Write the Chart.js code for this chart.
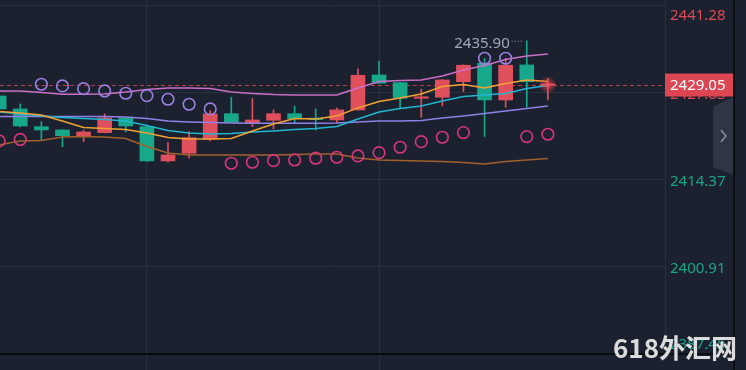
<!DOCTYPE html>
<html>
<head>
<meta charset="utf-8">
<script src="https://cdn.jsdelivr.net/npm/chart.js@4/dist/chart.umd.min.js"></script>
<style>
  html, body { margin: 0; padding: 0; background: #1b212e; }
  #wrap { width: 746px; height: 370px; }
</style>
</head>
<body>
<div id="wrap"><canvas id="kChart" width="746" height="370"></canvas></div>
<script>
// candle index (time slots), oldest on the left
var candleIdx = [0,1,2,3,4,5,6,7,8,9,10,11,12,13,14,15,16,17,18,19,20,21,22,23,24,25,26];

var openP  = [2427.36,2425.35,2422.61,2422.10,2421.17,2421.69,2424.00,2422.61,2417.31,2418.50,2420.71,2424.62,2423.19,2423.60,2424.62,2423.76,2423.65,2425.20,2430.61,2429.42,2427.00,2427.16,2429.57,2432.42,2426.74,2432.16,2429.00];
var highP  = [2427.60,2426.12,2423.39,2422.15,2422.10,2424.58,2424.05,2422.65,2420.14,2421.84,2425.09,2427.16,2426.94,2425.20,2425.81,2425.35,2425.51,2431.54,2432.77,2429.45,2428.40,2429.90,2432.20,2433.19,2433.19,2435.90,2430.10];
var lowP   = [2425.00,2422.57,2420.56,2419.52,2420.29,2421.64,2421.79,2417.25,2417.15,2417.77,2420.40,2423.25,2422.61,2422.26,2423.14,2422.10,2423.23,2425.15,2429.30,2425.46,2424.07,2425.81,2428.03,2421.07,2425.61,2425.61,2426.74];
var closeP = [2425.35,2422.72,2422.10,2421.22,2421.79,2423.96,2422.72,2417.31,2418.24,2420.91,2424.58,2423.29,2423.65,2424.62,2423.85,2423.70,2425.20,2430.56,2429.33,2427.01,2427.06,2429.84,2432.11,2426.74,2432.11,2429.57,2429.05];

// indicator lines
var bandUpper = [2428.13,2428.13,2427.90,2427.62,2427.62,2427.67,2427.98,2428.37,2428.60,2428.60,2428.52,2427.98,2427.75,2427.59,2427.52,2427.52,2427.52,2428.60,2429.60,2429.76,2429.84,2430.45,2431.38,2432.08,2433.01,2433.55,2433.86];
var maFast    = [2424.96,2424.73,2424.42,2423.49,2422.49,2422.33,2422.18,2421.64,2420.94,2420.71,2420.71,2420.79,2421.95,2423.03,2423.88,2423.80,2424.27,2425.51,2426.51,2427.05,2427.67,2428.83,2429.14,2428.60,2429.29,2429.84,2429.60];
var maMid     = [2424.89,2424.58,2424.27,2424.04,2423.88,2423.73,2423.49,2422.80,2422.03,2421.64,2421.48,2421.56,2421.79,2421.95,2422.18,2422.33,2422.64,2423.80,2424.89,2425.43,2425.81,2426.59,2427.28,2427.52,2427.75,2428.52,2428.98];
var maSlow    = [2424.19,2424.19,2424.19,2424.19,2424.19,2424.19,2424.11,2423.88,2423.49,2423.34,2423.26,2423.19,2423.14,2423.14,2423.14,2423.14,2423.19,2423.34,2423.49,2423.49,2423.57,2423.96,2424.27,2424.65,2425.04,2425.43,2425.81];
var bandLower = [2419.78,2420.40,2420.48,2421.02,2421.10,2421.02,2420.79,2419.55,2418.55,2418.24,2418.24,2418.24,2418.24,2418.24,2418.31,2418.39,2418.39,2417.77,2417.46,2417.39,2417.31,2417.23,2417.08,2416.84,2417.23,2417.46,2417.70];

// SAR dots
var sarAbove = [null,null,2429.17,2428.91,2428.49,2428.13,2427.78,2427.41,2426.85,2426.08,2425.35,null,null,null,null,null,null,null,null,null,null,null,null,2433.19,2433.19,null,null];
var sarBelow = [2420.40,2420.63,null,null,null,null,null,null,null,null,null,2416.95,2417.11,2417.35,2417.46,2417.73,2417.88,2418.08,2418.59,2419.43,2420.29,2420.97,2421.69,null,null,2421.07,2421.44];

var priceTicks = [2441.28, 2427.83, 2414.37, 2400.91, 2387.45];
var tickColors = ['#dc4a55', '#dc4a55', '#19a68a', '#19a68a', '#19a68a'];
var timeGrid = [7, 18];
var lastPrice = 2429.05;
var highMark = 2435.90;
var highIdx = 25;

var upColor = '#e0505c';
var downColor = '#17a78a';
var candleColors = candleIdx.map(function (i) { return closeP[i] >= openP[i] ? upColor : downColor; });

function pts(arr) {
    return candleIdx.map(function (i) { return { x: i, y: arr[i] }; }).filter(function (p) { return p.y !== null; });
}
function lineSet(arr, color) {
    return { type: 'line', data: pts(arr), borderColor: color, borderWidth: 1.5, pointRadius: 0, tension: 0, order: 5 };
}
function ringSet(arr, color) {
    return { type: 'line', data: pts(arr), showLine: false, pointRadius: 5.8, pointBorderWidth: 1.6,
        pointBorderColor: color, pointBackgroundColor: 'rgba(0,0,0,0)', order: 1 };
}

var overlay = {
    id: 'overlay',
    beforeDatasetsDraw: function (chart) {
        var ctx = chart.ctx, ys = chart.scales.y, area = chart.chartArea;
        var py = ys.getPixelForValue(lastPrice);
        ctx.save();
        ctx.strokeStyle = 'rgba(205,66,78,0.9)';
        ctx.lineWidth = 1;
        ctx.setLineDash([4, 3]);
        ctx.beginPath();
        ctx.moveTo(area.left, py + 0.5);
        ctx.lineTo(area.right, py + 0.5);
        ctx.stroke();
        ctx.restore();
    },
    afterDatasetsDraw: function (chart) {
        var ctx = chart.ctx, xs = chart.scales.x, ys = chart.scales.y;
        // glow on the live candle
        var gx = xs.getPixelForValue(candleIdx[candleIdx.length - 1]);
        var gy = ys.getPixelForValue(lastPrice);
        ctx.save();
        var g = ctx.createRadialGradient(gx, gy, 0, gx, gy, 9);
        g.addColorStop(0, 'rgba(255,90,100,0.95)');
        g.addColorStop(0.4, 'rgba(240,70,85,0.5)');
        g.addColorStop(1, 'rgba(240,70,85,0)');
        ctx.fillStyle = g;
        ctx.beginPath();
        ctx.arc(gx, gy, 9, 0, Math.PI * 2);
        ctx.fill();
        // highest price marker
        var hx = xs.getPixelForValue(highIdx);
        var hy = ys.getPixelForValue(highMark);
        ctx.strokeStyle = '#9aa1ad';
        ctx.setLineDash([1, 2]);
        ctx.beginPath();
        ctx.moveTo(hx - 15, hy + 0.5);
        ctx.lineTo(hx - 3, hy + 0.5);
        ctx.stroke();
        ctx.setLineDash([]);
        ctx.fillStyle = '#a3a9b4';
        ctx.font = '15px "Noto Sans"';
        ctx.textAlign = 'right';
        ctx.textBaseline = 'middle';
        ctx.fillText(highMark.toFixed(2), hx - 17, hy + 3);
        ctx.restore();
    },
    afterDraw: function (chart) {
        var ctx = chart.ctx, ys = chart.scales.y, area = chart.chartArea;
        ctx.save();
        ctx.font = '15px "Noto Sans"';
        ctx.textAlign = 'left';
        ctx.textBaseline = 'middle';
        ys.ticks.forEach(function (t, k) {
            var y = Math.min(Math.max(ys.getPixelForValue(t.value) + 2, 16), 345);
            ctx.fillStyle = tickColors[k];
            ctx.fillText(t.value.toFixed(2), area.right + 5, y);
        });
        // last price tag
        var py = ys.getPixelForValue(lastPrice);
        ctx.fillStyle = '#dc4652';
        ctx.fillRect(area.right, py - 11.5, 68, 23);
        ctx.fillStyle = '#ffffff';
        ctx.fillText(lastPrice.toFixed(2), area.right + 5, py + 0.5);
        // side tab
        ctx.fillStyle = '#2f3542';
        ctx.beginPath();
        ctx.moveTo(713, 107);
        ctx.lineTo(733, 97);
        ctx.lineTo(733, 175);
        ctx.lineTo(713, 167);
        ctx.closePath();
        ctx.fill();
        ctx.strokeStyle = '#8b919c';
        ctx.lineWidth = 1.5;
        ctx.beginPath();
        ctx.moveTo(721, 130);
        ctx.lineTo(726, 136);
        ctx.lineTo(721, 142);
        ctx.stroke();
        // frame lines
        ctx.strokeStyle = '#07090d';
        ctx.lineWidth = 1.5;
        ctx.beginPath();
        ctx.moveTo(0, area.bottom);
        ctx.lineTo(734, area.bottom);
        ctx.moveTo(734, 0);
        ctx.lineTo(734, 370);
        ctx.stroke();
        // watermark
        ctx.fillStyle = 'rgba(228,228,228,0.96)';
        ctx.font = 'bold 26px "Noto Sans CJK SC"';
        ctx.textBaseline = 'alphabetic';
        ctx.fillText('618外汇网', 613, 358);
        ctx.restore();
    }
};

new Chart(document.getElementById('kChart').getContext('2d'), {
    type: 'bar',
    data: {
        datasets: [
            ringSet(sarAbove, '#9b7fe2'),
            ringSet(sarBelow, '#d9367c'),
            lineSet(bandUpper, '#cc6fc8'),
            lineSet(maFast, '#f2a232'),
            lineSet(maMid, '#22b6d2'),
            lineSet(maSlow, '#8f80ea'),
            lineSet(bandLower, '#a2612c'),
            {
                data: candleIdx.map(function (i) { return { x: i, y: [openP[i], closeP[i]] }; }),
                backgroundColor: candleColors,
                barThickness: 14, maxBarThickness: 14, minBarLength: 1.5,
                grouped: false, order: 9
            },
            {
                data: candleIdx.map(function (i) { return { x: i, y: [lowP[i], highP[i]] }; }),
                backgroundColor: candleColors,
                barThickness: 1, maxBarThickness: 1,
                grouped: false, order: 10
            }
        ]
    },
    options: {
        responsive: false,
        devicePixelRatio: 1,
        animation: false,
        layout: { padding: 0, autoPadding: false },
        plugins: { legend: { display: false }, tooltip: { enabled: false } },
        scales: {
            x: {
                type: 'linear', min: 0.04, max: 31.55, offset: false,
                afterBuildTicks: function (s) { s.ticks = timeGrid.map(function (v) { return { value: v }; }); },
                afterFit: function (s) { s.height = 16; },
                ticks: { display: false },
                grid: { color: '#263041', tickLength: 16, offset: false },
                border: { color: '#07090d' }
            },
            y: {
                position: 'right', min: 2387.45, max: 2442.20, beginAtZero: false,
                afterBuildTicks: function (s) { s.ticks = priceTicks.map(function (v) { return { value: v }; }); },
                afterFit: function (s) { s.width = 81; },
                ticks: { display: false },
                grid: { color: '#263041', drawTicks: false },
                border: { color: '#263041' }
            }
        }
    },
    plugins: [overlay]
});
</script>
</body>
</html>
